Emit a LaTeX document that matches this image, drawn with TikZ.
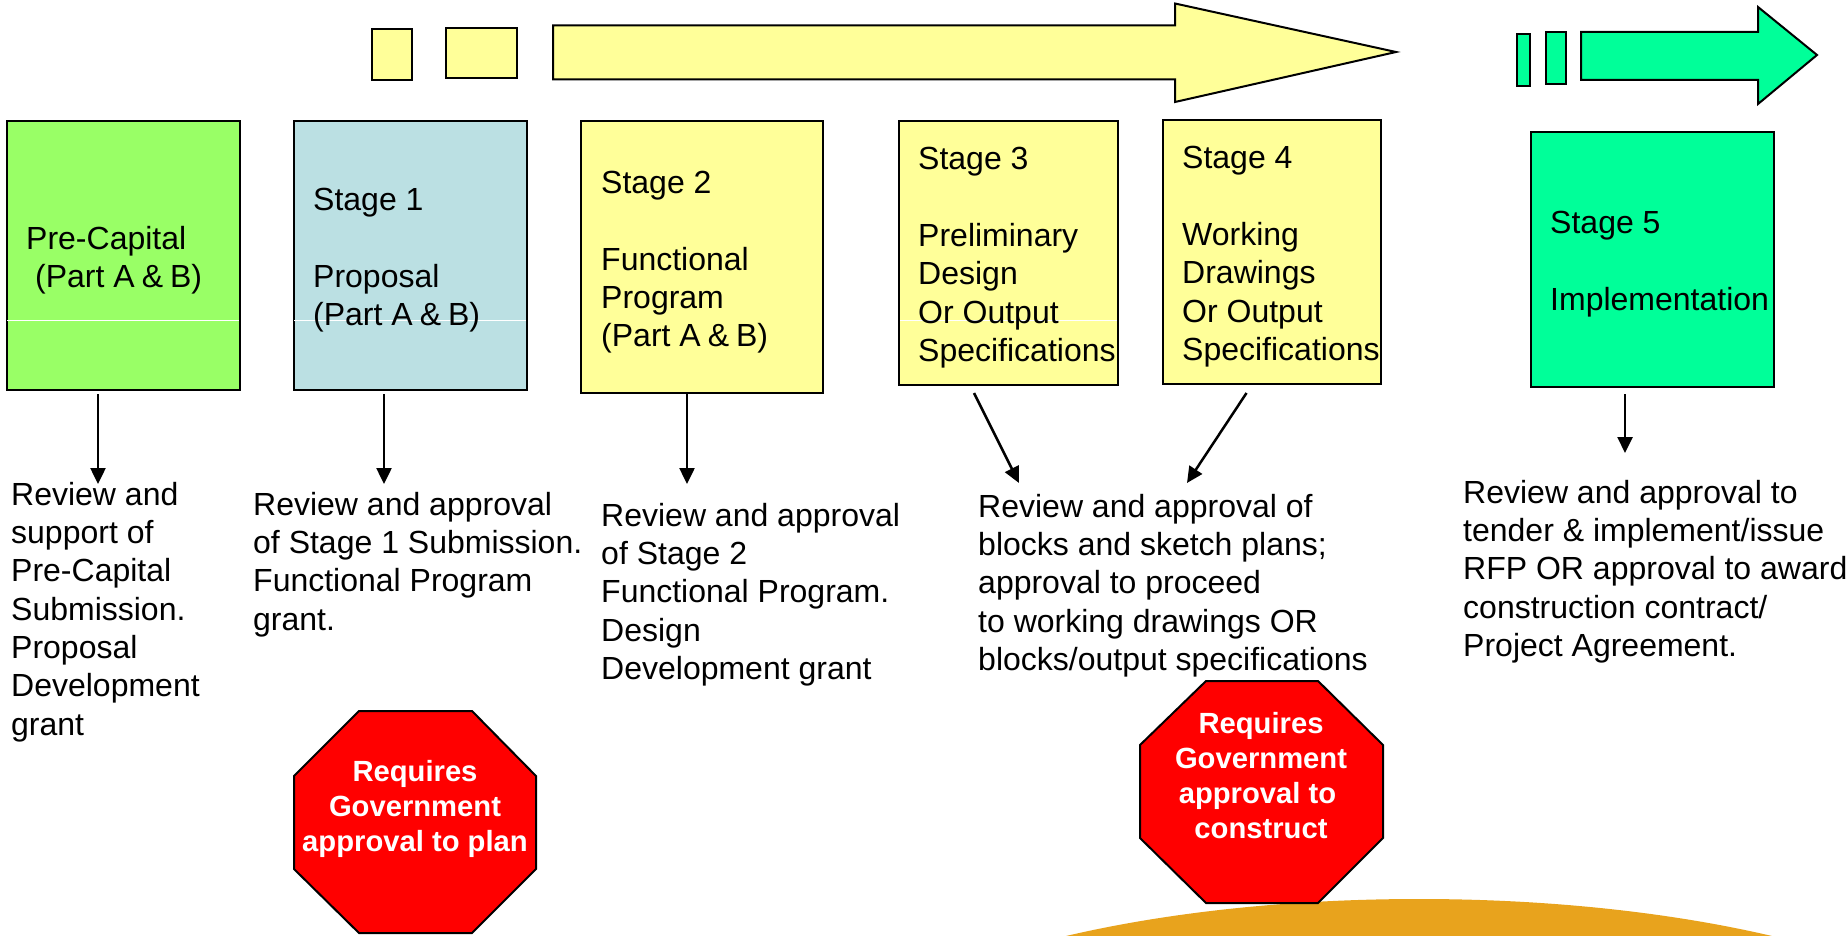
\documentclass[tikz,border=0pt]{standalone}
\usepackage{fontspec}
\setmainfont{Liberation Sans}
\usetikzlibrary{arrows.meta}
\definecolor{pcgreen}{HTML}{99FF66}
\definecolor{paleblue}{HTML}{BBE0E3}
\definecolor{paleyellow}{HTML}{FFFF99}
\definecolor{seagreen}{HTML}{00FF99}
\definecolor{hillorange}{HTML}{E8A31D}
\tikzset{
  x=1pt,y=-1pt,
  stagebox/.style={draw=black,line width=2pt,rectangle,inner sep=0pt,outer sep=0pt,anchor=north west},
  stagetext/.style={anchor=west,inner sep=0pt,align=left,font=\fontsize{32}{38.3}\selectfont},
  revtext/.style={anchor=north west,inner sep=0pt,align=left,font=\fontsize{32}{38.3}\selectfont},
  outline/.style={draw=black,line width=2pt},
  flow/.style={line width=2.5pt,-{Triangle[length=16pt,width=15pt]}},
  stoptext/.style={inner sep=0pt,align=center,text=white,font=\fontsize{29.2}{35}\selectfont\bfseries},
  whiteline/.style={draw=white,line width=1pt},
  stopsign/.style={fill=red,draw=black,line width=2pt,line join=miter}
}
\newcommand{\boxnode}[6]{\node[stagebox,fill=#6,minimum width=#4pt-#2pt,minimum height=#5pt-#3pt] (#1) at (#2,#3) {};}
\newcommand{\partab}{(Part A\hspace{7pt}\&\hspace{7pt}B)}
\begin{document}
\begin{tikzpicture}
\useasboundingbox (0,0) rectangle (1846,936);
% hill
\begin{scope}
\clip (0,0) rectangle (1846,936);
\fill[hillorange] (1419,1099) ellipse [x radius=609,y radius=200];
\end{scope}
% top arrows
\node[stagebox,fill=paleyellow,minimum width=40pt,minimum height=51pt] (ya) at (372,29.5) {};
\node[stagebox,fill=paleyellow,minimum width=71pt,minimum height=50pt] (yb) at (446,28.5) {};
\draw[outline,fill=paleyellow] (553,25.5) -- (1175,25.5) -- (1175,3.5) -- (1396,52) -- (1175,102) -- (1175,79.5) -- (553,79.5) -- cycle;
\node[stagebox,fill=seagreen,minimum width=13pt,minimum height=52pt] (ga) at (1516.5,34.5) {};
\node[stagebox,fill=seagreen,minimum width=20pt,minimum height=52pt] (gb) at (1546,32.5) {};
\draw[outline,fill=seagreen] (1581,32) -- (1758,32) -- (1758,7) -- (1817,55) -- (1758,104) -- (1758,80) -- (1581,80) -- cycle;
% boxes
\boxnode{pc}{6.5}{121.5}{240}{390}{pcgreen}
\boxnode{s1}{293.5}{121.5}{527}{390}{paleblue}
\boxnode{s2}{581}{121.5}{823}{393}{paleyellow}
\boxnode{s3}{899}{121.5}{1118}{385}{paleyellow}
\boxnode{s4}{1163}{120.5}{1381}{384}{paleyellow}
\boxnode{s5}{1531}{132.5}{1774}{387}{seagreen}
\draw[whiteline] (7,320) -- (239,320);
\draw[whiteline] (294,320) -- (526,320);
\draw[whiteline] (900,320) -- (1117,320);
% box labels
\node[stagetext] (pct) at ([xshift=19.5pt,yshift=-4.5pt]pc.west) {Pre-Capital\\\hspace*{9pt}\partab};
\node[stagetext] (s1t) at ([xshift=19.5pt,yshift=-4.5pt]s1.west) {Stage 1\\[38.3pt]Proposal\\\partab};
\node[stagetext] (s2t) at ([xshift=20pt,yshift=-5pt]s2.west) {Stage 2\\[38.3pt]Functional\\Program\\\partab};
\node[stagetext] (s3t) at ([xshift=19pt,yshift=-4.5pt]s3.west) {Stage 3\\[38.3pt]Preliminary\\Design\\Or Output\\Specifications};
\node[stagetext] (s4t) at ([xshift=19pt,yshift=-4.5pt]s4.west) {Stage 4\\[38.3pt]Working\\Drawings\\Or Output\\Specifications};
\node[stagetext] (s5t) at ([xshift=19pt,yshift=-4.5pt]s5.west) {Stage 5\\[38.3pt]Implementation};
% review texts
\node[revtext] (r0) at (11,482) {Review and\\support of\\Pre-Capital\\Submission.\\Proposal\\Development\\grant};
\node[revtext] (r1) at (253,492) {Review and approval\\of Stage 1 Submission.\\Functional Program\\grant.};
\node[revtext] (r2) at (601,503) {Review and approval\\of Stage 2\\Functional Program.\\Design\\Development grant};
\node[revtext] (r3) at (978,494) {Review and approval of\\blocks and sketch plans;\\approval to proceed\\to working drawings OR\\blocks/output specifications};
\node[revtext] (r5) at (1463,480) {Review and approval to\\tender \& implement/issue\\RFP OR approval to award\\construction contract/\\Project Agreement.};
% connectors
\draw[flow] ([xshift=-25.25pt,yshift=-4pt]pc.south) -- ([xshift=87pt,yshift=-2pt]r0.north west);
\draw[flow] ([xshift=-26.25pt,yshift=-4pt]s1.south) -- ([xshift=131pt,yshift=8pt]r1.north west);
\draw[flow] ([xshift=-15pt,yshift=-1pt]s2.south) -- ([xshift=86pt,yshift=19pt]r2.north west);
\draw[flow] ([xshift=-34.5pt,yshift=-8pt]s3.south) -- ([xshift=41pt,yshift=11pt]r3.north west);
\draw[flow] ([xshift=-25.5pt,yshift=-9pt]s4.south) -- ([xshift=209pt,yshift=11pt]r3.north west);
\draw[flow] ([xshift=-27.5pt,yshift=-7pt]s5.south) -- ([xshift=162pt,yshift=27pt]r5.north west);
% stop signs
\draw[stopsign] (359,711) -- (472,711) -- (536,776) -- (536,869) -- (472,933) -- (359,933) -- (294,869) -- (294,776) -- cycle;
\node[stoptext] (stopa) at (415,808.5) {Requires\\Government\\approval to plan};
\draw[stopsign] (1206,681) -- (1318,681) -- (1383,745) -- (1383,838) -- (1318,903) -- (1206,903) -- (1140,838) -- (1140,745) -- cycle;
\node[stoptext] (stopb) at (1261,776) {Requires\\Government\\approval to\hspace*{7pt}\mbox{}\\construct};
\end{tikzpicture}
\end{document}
